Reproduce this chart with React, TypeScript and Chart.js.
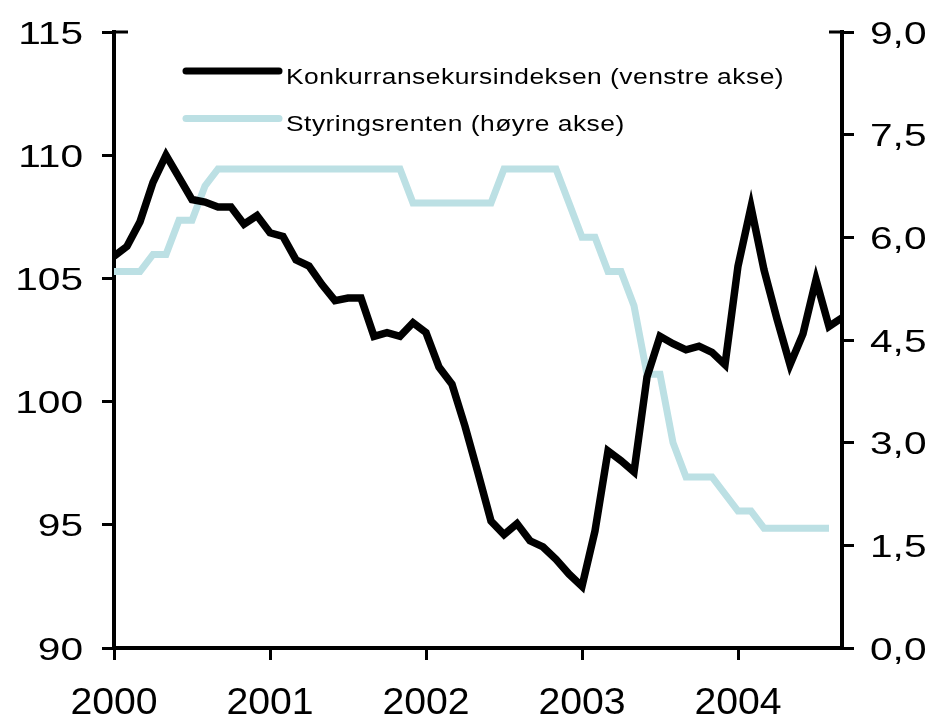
import React, { useEffect, useRef } from "react";
import { Chart, registerables } from "chart.js";

Chart.register(...registerables);

// Monthly observations, Jan 2000 onwards
const indexValues = [
  105.9, 106.3, 107.3, 108.9, 110.0, 109.1, 108.2, 108.1, 107.9, 107.9, 107.2, 107.55,
  106.85, 106.7, 105.75, 105.5, 104.75, 104.1, 104.2, 104.2, 102.65, 102.8, 102.65, 103.2,
  102.8, 101.4, 100.7, 99.0, 97.1, 95.15, 94.6, 95.05, 94.35, 94.1, 93.6, 93.0,
  92.5, 94.75, 98.0, 97.6, 97.15, 101.0, 102.65, 102.35, 102.1, 102.25, 102.0, 101.5,
  105.5, 107.9, 105.35, 103.35, 101.5, 102.75, 104.95, 103.05, 103.4,
];

const rateValues = [
  5.5, 5.5, 5.5, 5.75, 5.75, 6.25, 6.25, 6.75, 7.0, 7.0, 7.0, 7.0,
  7.0, 7.0, 7.0, 7.0, 7.0, 7.0, 7.0, 7.0, 7.0, 7.0, 7.0, 6.5,
  6.5, 6.5, 6.5, 6.5, 6.5, 6.5, 7.0, 7.0, 7.0, 7.0, 7.0, 6.5,
  6.0, 6.0, 5.5, 5.5, 5.0, 4.0, 4.0, 3.0, 2.5, 2.5, 2.5, 2.25,
  2.0, 2.0, 1.75, 1.75, 1.75, 1.75, 1.75, 1.75,
];

const seriesLabels = [
  "Konkurransekursindeksen (venstre akse)",
  "Styringsrenten (høyre akse)",
];
const seriesColors = ["#000000", "#BCE0E4"];

const yearTickValues = [0, 12, 24, 36, 48];
const yearTickLabels = ["2000", "2001", "2002", "2003", "2004"];
const leftTickValues = [90, 95, 100, 105, 110, 115];
const leftTickLabels = ["90", "95", "100", "105", "110", "115"];
const rightTickValues = [0, 1.5, 3, 4.5, 6, 7.5, 9];
const rightTickLabels = ["0,0", "1,5", "3,0", "4,5", "6,0", "7,5", "9,0"];

const FONT = '"Liberation Sans", Arial, Helvetica, sans-serif';

function drawStretched(
  ctx: CanvasRenderingContext2D,
  text: string,
  x: number,
  y: number,
  sx: number,
  align: CanvasTextAlign
) {
  ctx.save();
  ctx.translate(x, y);
  ctx.scale(sx, 1);
  ctx.textAlign = align;
  ctx.textBaseline = "alphabetic";
  ctx.fillText(text, 0, 0);
  ctx.restore();
}

const labelPlugin = {
  id: "customLabels",
  afterDraw(chart: any) {
    const ctx: CanvasRenderingContext2D = chart.ctx;
    const xs = chart.scales.x;
    const ys = chart.scales.y;
    const ys1 = chart.scales.y1;
    const area = chart.chartArea;
    ctx.save();
    ctx.fillStyle = "#000";

    // left axis labels
    ctx.font = `32px ${FONT}`;
    leftTickValues.forEach((v, i) => {
      const py = ys.getPixelForValue(v);
      drawStretched(ctx, leftTickLabels[i], area.left - 31, py + 11.5, 1.27, "right");
    });
    // right axis labels
    rightTickValues.forEach((v, i) => {
      const py = ys1.getPixelForValue(v);
      drawStretched(ctx, rightTickLabels[i], area.right + 28, py + 11.5, 1.27, "left");
    });
    // x axis labels
    ctx.font = `37px ${FONT}`;
    yearTickValues.forEach((v, i) => {
      const px = xs.getPixelForValue(v);
      drawStretched(ctx, yearTickLabels[i], px, area.bottom + 66, 1.06, "center");
    });

    // small inward segments at the top ticks
    ctx.strokeStyle = "#000";
    ctx.lineWidth = 3;
    ctx.beginPath();
    ctx.moveTo(area.left, area.top);
    ctx.lineTo(area.left + 14, area.top);
    ctx.moveTo(area.right - 13, area.top);
    ctx.lineTo(area.right, area.top);
    ctx.stroke();

    // legend
    const rows = [
      { lineY: 71, baseY: 83.5 },
      { lineY: 118.5, baseY: 131 },
    ];
    chart.data.datasets.forEach((ds: any, i: number) => {
      const r = rows[i];
      ctx.strokeStyle = ds.borderColor;
      ctx.lineWidth = 7;
      ctx.lineCap = "round";
      ctx.beginPath();
      ctx.moveTo(186, r.lineY);
      ctx.lineTo(279, r.lineY);
      ctx.stroke();
      ctx.font = `22px ${FONT}`;
      (ctx as any).letterSpacing = "0.4px";
      ctx.fillStyle = "#000";
      drawStretched(ctx, ds.label, 286, r.baseY, 1.2, "left");
      (ctx as any).letterSpacing = "0px";
    });
    ctx.restore();
  },
};

export default function App() {
  const canvasRef = useRef<HTMLCanvasElement | null>(null);

  useEffect(() => {
    document.body.style.margin = "0";
    const canvas = canvasRef.current;
    if (!canvas) return;

    const chart = new Chart(canvas, {
      type: "line",
      data: {
        datasets: [
          {
            label: seriesLabels[0],
            data: indexValues.map((v, i) => ({ x: i, y: v })),
            borderColor: seriesColors[0],
            backgroundColor: seriesColors[0],
            borderWidth: 7.5,
            pointRadius: 0,
            tension: 0,
            yAxisID: "y",
          },
          {
            label: seriesLabels[1],
            data: rateValues.map((v, i) => ({ x: i, y: v })),
            borderColor: seriesColors[1],
            backgroundColor: seriesColors[1],
            borderWidth: 7,
            pointRadius: 0,
            tension: 0,
            yAxisID: "y1",
          },
        ],
      },
      options: {
        animation: false,
        responsive: true,
        maintainAspectRatio: false,
        layout: { padding: { top: 32, left: 0, right: 0, bottom: 0 } },
        plugins: {
          legend: { display: false },
          tooltip: { enabled: false },
        },
        scales: {
          x: {
            type: "linear",
            min: 0,
            max: 56,
            afterBuildTicks: (s: any) => {
              s.ticks = yearTickValues.map((v) => ({ value: v }));
            },
            afterFit: (s: any) => {
              s.height = 69;
            },
            ticks: { display: false },
            grid: {
              display: true,
              drawOnChartArea: false,
              drawTicks: true,
              tickLength: 12,
              color: "#000",
              lineWidth: 3,
            },
            border: { display: true, color: "#000", width: 4 },
          },
          y: {
            type: "linear",
            position: "left",
            min: 90,
            max: 115,
            afterBuildTicks: (s: any) => {
              s.ticks = leftTickValues.map((v) => ({ value: v }));
            },
            afterFit: (s: any) => {
              s.width = 114;
            },
            ticks: { display: false },
            grid: {
              display: true,
              drawOnChartArea: false,
              drawTicks: true,
              tickLength: 12,
              color: "#000",
              lineWidth: 3,
            },
            border: { display: true, color: "#000", width: 4 },
          },
          y1: {
            type: "linear",
            position: "right",
            min: 0,
            max: 9,
            afterBuildTicks: (s: any) => {
              s.ticks = rightTickValues.map((v) => ({ value: v }));
            },
            afterFit: (s: any) => {
              s.width = 89;
            },
            ticks: { display: false },
            grid: {
              display: true,
              drawOnChartArea: false,
              drawTicks: true,
              tickLength: 12,
              color: "#000",
              lineWidth: 3,
            },
            border: { display: true, color: "#000", width: 4 },
          },
        },
      },
      plugins: [labelPlugin],
    });

    return () => {
      chart.destroy();
    };
  }, []);

  return (
    <div style={{ width: 931, height: 717, position: "relative" }}>
      <canvas ref={canvasRef} />
    </div>
  );
}
